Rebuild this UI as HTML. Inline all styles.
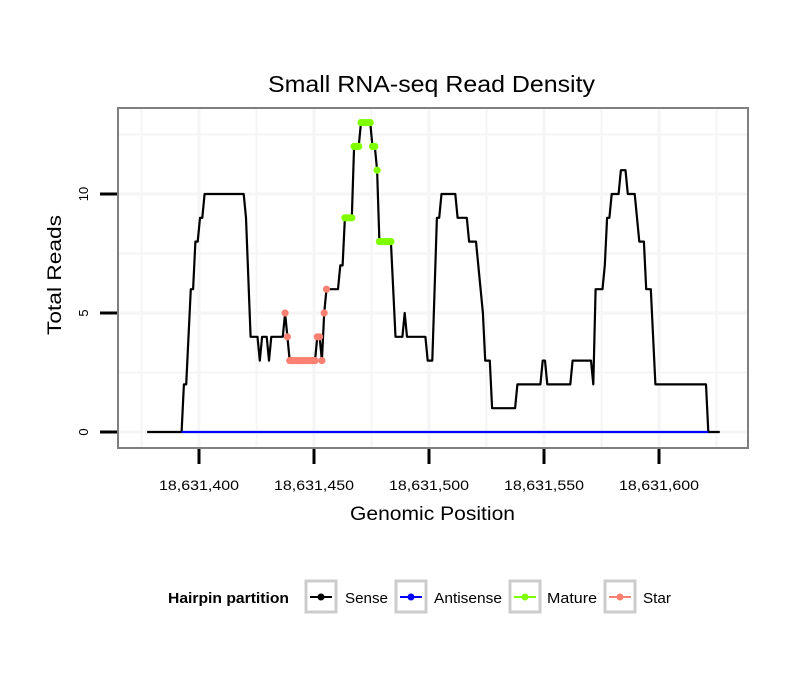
<!DOCTYPE html>
<html><head><meta charset="utf-8"><style>
body{margin:0;background:#fff}
svg{display:block;font-family:"Liberation Sans",sans-serif}
</style></head><body>
<svg id="chart" width="810" height="690">
<rect width="810" height="690" fill="#fff"/>
<text x="268" y="92" font-size="23" textLength="327" lengthAdjust="spacingAndGlyphs">Small RNA-seq Read Density</text>
<g id="grid"></g>
<g id="marks"></g>
<rect x="118" y="108" width="630" height="340" fill="none" stroke="#7f7f7f" stroke-width="2"/>
<g id="axes"></g>
<text x="350" y="520" font-size="19" textLength="165" lengthAdjust="spacingAndGlyphs">Genomic Position</text>
<text transform="translate(61,335) rotate(-90)" font-size="19" textLength="120" lengthAdjust="spacingAndGlyphs">Total Reads</text>
<g>
<text x="168" y="603" font-size="15" font-weight="bold" textLength="121" lengthAdjust="spacingAndGlyphs">Hairpin partition</text>
<g><rect x="306" y="581" width="30" height="31" fill="#fff" stroke="#ccc" stroke-width="3"/><line x1="310" y1="597" x2="332" y2="597" stroke="#000" stroke-width="2"/><circle cx="321" cy="597" r="3.5" fill="#000"/><text x="345" y="603" font-size="15" textLength="43" lengthAdjust="spacingAndGlyphs">Sense</text></g>
<g><rect x="396" y="581" width="30" height="31" fill="#fff" stroke="#ccc" stroke-width="3"/><line x1="400" y1="597" x2="422" y2="597" stroke="#00f" stroke-width="2"/><circle cx="411" cy="597" r="3.5" fill="#00f"/><text x="434" y="603" font-size="15" textLength="68" lengthAdjust="spacingAndGlyphs">Antisense</text></g>
<g><rect x="510" y="581" width="30" height="31" fill="#fff" stroke="#ccc" stroke-width="3"/><line x1="514" y1="597" x2="536" y2="597" stroke="#7fff00" stroke-width="2"/><circle cx="525" cy="597" r="3.5" fill="#7fff00"/><text x="547" y="603" font-size="15" textLength="50" lengthAdjust="spacingAndGlyphs">Mature</text></g>
<g><rect x="605" y="581" width="30" height="31" fill="#fff" stroke="#ccc" stroke-width="3"/><line x1="609" y1="597" x2="631" y2="597" stroke="#fa8072" stroke-width="2"/><circle cx="620" cy="597" r="3.5" fill="#fa8072"/><text x="643" y="603" font-size="15" textLength="28" lengthAdjust="spacingAndGlyphs">Star</text></g>
</g>
</svg>
<script>
const senseOffsets=[377,392,393,394,395,396,397,398,399,400,401,402,419,420,422,425,426,427,429,430,431,436,437,438,439,450,451,452,453,454,455,460,461,462,463,466,467,469,470,474,475,476,477,478,483,485,488,489,490,498,499,501,503,504,505,511,512,516,517,520,523,524,526,527,537,538,548,549,550,551,561,562,570,571,572,575,576,577,578,579,582,583,585,586,589,591,593,594,596,598,620,621,626];
const senseValues=[0,0,2,2,4,6,6,8,8,9,9,10,10,9,4,4,3,4,4,3,4,4,5,4,3,3,4,4,3,5,6,6,7,7,9,9,12,12,13,13,12,12,11,8,8,4,4,5,4,4,3,3,9,9,10,10,9,9,8,8,5,3,3,1,1,2,2,3,3,2,2,3,3,2,6,6,7,9,9,10,10,11,11,10,10,8,8,6,6,2,2,0,0];
const antisenseOffsets=[392,621];
const antisenseValues=[0,0];
const matureOffsets=[463,464,465,466,467,468,469,470,471,472,473,474,475,476,477,478,479,480,481,482,483];
const matureValues=[9,9,9,9,12,12,12,13,13,13,13,13,12,12,11,8,8,8,8,8,8];
const starOffsets=[437,438,439,440,441,442,443,444,445,446,447,448,449,450,451,452,453,454,455];
const starValues=[5,4,3,3,3,3,3,3,3,3,3,3,3,3,4,4,3,5,6];
const posBase=18631000;
const xTicks=[18631400,18631450,18631500,18631550,18631600];
const xTickLabels=["18,631,400","18,631,450","18,631,500","18,631,550","18,631,600"];
const yTicks=[0,5,10];
const yTickLabels=["0","5","10"];

const X=p=>200+(p-18631400)*2.3;
const Y=v=>432-v*23.8;
const NS="http://www.w3.org/2000/svg";
function mk(t,a,parent){const e=document.createElementNS(NS,t);for(const k in a)e.setAttribute(k,a[k]);parent.appendChild(e);return e;}
const grid=document.getElementById('grid'),marks=document.getElementById('marks'),axes=document.getElementById('axes');
mk('rect',{x:118,y:108,width:630,height:340,fill:'#fff'},grid);
for(let p=18631375;p<=18631625;p+=25){const l=mk('line',{x1:X(p)-1,x2:X(p)-1,y1:109,y2:447,stroke:'#f5f5f5','stroke-width':p%50?2:3},grid);

}
for(let v=0;v<=12.5;v+=2.5){const l=mk('line',{x1:119,x2:747,y1:Y(v),y2:Y(v),stroke:'#f5f5f5','stroke-width':v%5?2:3},grid);

}
function poly(offs,vals,color,name){const pts=offs.map((o,i)=>X(posBase+o)+','+Y(vals[i])).join(' ');
const e=mk('polyline',{points:pts,fill:'none',stroke:color,'stroke-width':2.2,'stroke-linejoin':'round'},marks);

}
poly(senseOffsets,senseValues,'#000','sense-line');
poly(antisenseOffsets,antisenseValues,'#00f','antisense-line');
function dots(offs,vals,color,name){offs.forEach((o,i)=>{const c=mk('circle',{cx:X(posBase+o),cy:Y(vals[i]),r:3.6,fill:color},marks);

});}
dots(matureOffsets,matureValues,'#7fff00','mature-point');
dots(starOffsets,starValues,'#fa8072','star-point');
xTicks.forEach((p,i)=>{const l=mk('line',{x1:X(p)-1,x2:X(p)-1,y1:449,y2:464,stroke:'#000','stroke-width':3},axes);


const t=mk('text',{x:X(p)-41,y:490,'font-size':14,textLength:80,lengthAdjust:'spacingAndGlyphs'},axes);t.textContent=xTickLabels[i];

});
yTicks.forEach((v,i)=>{const l=mk('line',{x1:100,x2:117,y1:Y(v),y2:Y(v),stroke:'#000','stroke-width':3},axes);


const t=mk('text',{transform:`translate(88,${Y(v)}) rotate(-90)`,'font-size':13,'text-anchor':'middle'},axes);t.textContent=yTickLabels[i];

});
</script>
</body></html>
